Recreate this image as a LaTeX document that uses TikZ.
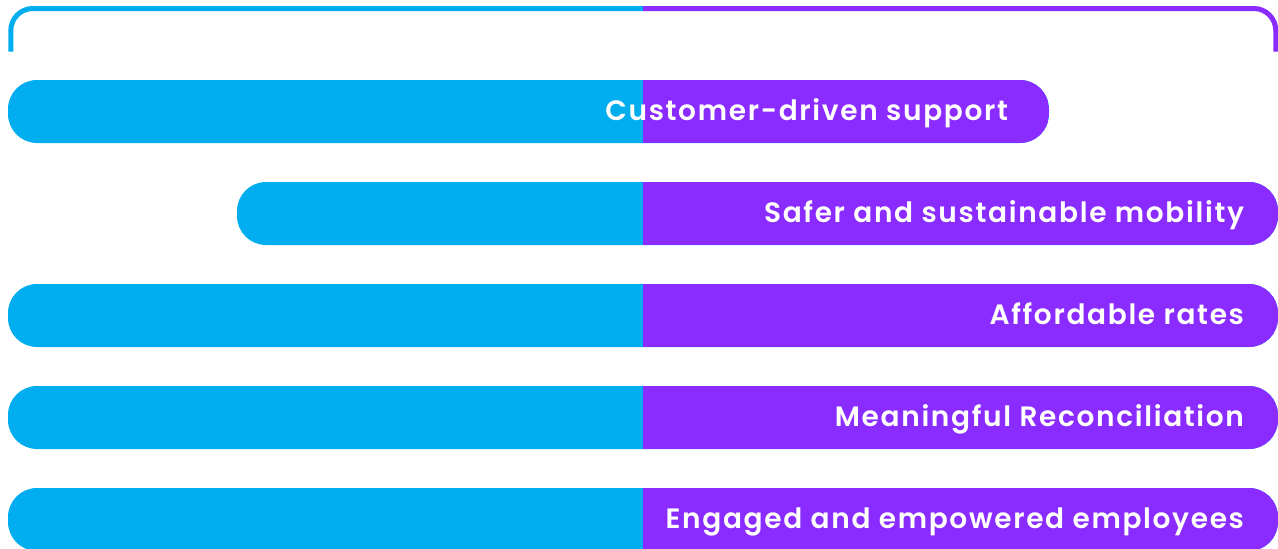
\documentclass[tikz,border=0pt]{standalone}
\usepackage{fontspec}
\newfontfamily\labelfont[LetterSpace=6]{Poppins SemiBold}
\definecolor{cyanbar}{HTML}{00AEEF}
\definecolor{purplebar}{HTML}{8A2BFF}
\begin{document}
\begin{tikzpicture}[x=1pt,y=-1pt,
  bracket/.style={line width=5pt, rounded corners=22pt},
  bar/.style={fill=cyanbar, draw=none, inner sep=0pt, minimum height=63pt,
    rounded corners=29pt,
    path picture={\fill[purplebar, sharp corners]
      (split|-path picture bounding box.south)
      rectangle (path picture bounding box.north east);}},
  barlabel/.style={text=white, inner sep=0pt, anchor=base east,
    font=\labelfont\fontsize{28}{32}\selectfont}]
  \useasboundingbox (0,0) rectangle (1278,549);
  \coordinate (split) at (643,0);

  % top bracket, cyan on the left half, purple on the right half
  \coordinate (bl) at (10.8,51.5);
  \coordinate (top) at (643,8.5);
  \coordinate (br) at (1275.8,51.5);
  \draw[bracket, cyanbar] (bl) |- (top);
  \draw[bracket, purplebar] (top) -| (br);

  % bars
  \node[bar, minimum width=1041pt] (b1) at (528.5,111.5) {};
  \node[bar, minimum width=1041pt] (b2) at (757.5,213.5) {};
  \node[bar, minimum width=1270pt] (b3) at (643,315.5) {};
  \node[bar, minimum width=1270pt] (b4) at (643,417.5) {};
  \node[bar, minimum width=1270pt] (b5) at (643,519.5) {};

  % labels
  \node[barlabel] (t1) at ([xshift=-41pt,yshift=-8.5pt]b1.east) {Customer-driven support};
  \node[barlabel] (t2) at ([xshift=-34pt,yshift=-8.5pt]b2.east) {Safer and sustainable mobility};
  \node[barlabel] (t3) at ([xshift=-34pt,yshift=-8.5pt]b3.east) {Affordable rates};
  \node[barlabel] (t4) at ([xshift=-34pt,yshift=-8.5pt]b4.east) {Meaningful Reconciliation};
  \node[barlabel] (t5) at ([xshift=-34pt,yshift=-8.5pt]b5.east) {Engaged and empowered employees};
\end{tikzpicture}
\end{document}
